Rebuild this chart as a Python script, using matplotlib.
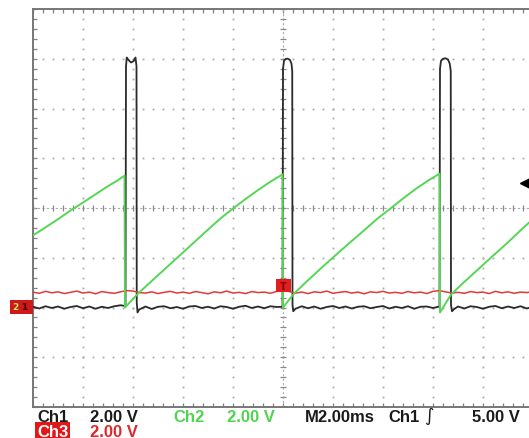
import numpy as np
import matplotlib
matplotlib.use('Agg')
import matplotlib.pyplot as plt
from matplotlib.patches import Rectangle

# scope capture: time in ms (2 ms/div), volts (2 V/div), ground at -2 div
ch1_t = [0, 0.25, 0.5, 0.75, 1.0, 1.25, 1.5, 1.75, 2.0, 2.25, 2.5, 2.75, 3.0, 3.25, 3.5,
         3.70, 3.72, 3.75, 3.82, 3.92, 4.02, 4.10, 4.14, 4.15, 4.18, 4.25,
         4.5, 4.75, 5.0, 5.25, 5.5, 5.75, 6.0, 6.25, 6.5, 6.75, 7.0, 7.25, 7.5, 7.75,
         8.0, 8.25, 8.5, 8.75, 9.0, 9.25, 9.5, 9.75,
         9.98, 10.0, 10.04, 10.12, 10.2, 10.28, 10.34, 10.37, 10.38, 10.41, 10.5,
         10.75, 11.0, 11.25, 11.5, 11.75, 12.0, 12.25, 12.5, 12.75, 13.0, 13.25,
         13.5, 13.75, 14.0, 14.25, 14.5, 14.75, 15.0, 15.25, 15.5, 15.75, 16.0,
         16.26, 16.28, 16.32, 16.40, 16.5, 16.6, 16.67, 16.71, 16.72, 16.76, 16.85,
         17.0, 17.25, 17.5, 17.75, 18.0, 18.25, 18.5, 18.75, 19.0, 19.25, 19.5, 19.75, 20.0]
ch1_v = [0.03, -0.04, 0.05, -0.02, 0.04, -0.05, 0.02, 0.06, -0.03, 0.04, -0.05, 0.03, -0.02, 0.05, 0.09,
         0.06, 9.7, 10.05, 9.95, 9.85, 9.9, 10.05, 9.7, 0.2, -0.2, -0.08,
         0.04, -0.06, 0.03, 0.05, -0.03, 0.02, -0.05, 0.04, 0.06, -0.02, 0.03, -0.04, 0.05, 0.02,
         -0.05, 0.03, 0.07, -0.02, 0.04, -0.03, 0.05, 0.02,
         0.03, 9.6, 9.92, 10.0, 10.0, 9.95, 9.8, 9.5, 0.1, -0.15, -0.05,
         0.05, -0.03, 0.04, -0.05, 0.02, 0.06, -0.02, 0.04, -0.04, 0.03, 0.05,
         -0.03, 0.02, 0.06, -0.04, 0.03, -0.02, 0.05, -0.05, 0.03, 0.04, -0.02,
         0.04, 9.6, 9.92, 10.0, 10.02, 9.97, 9.8, 9.5, 0.1, -0.15, -0.06,
         0.04, -0.04, 0.05, 0.02, -0.05, 0.03, 0.06, -0.03, 0.04, -0.02, 0.05, -0.04, 0.03]

ch2_t = [0, 0.5, 1.0, 1.5, 2.0, 2.5, 3.0, 3.4, 3.66, 3.68,
         4.16, 4.6, 5.2, 5.8, 6.4, 7.0, 7.5, 8.0, 8.5, 9.0, 9.5, 9.98, 10.0,
         10.44, 10.9, 11.5, 12.1, 12.7, 13.3, 13.76, 14.3, 14.8, 15.3, 15.8, 16.26, 16.28,
         16.72, 17.2, 17.8, 18.4, 19.0, 19.5, 20.0]
ch2_v = [2.9, 3.22, 3.55, 3.9, 4.22, 4.55, 4.88, 5.12, 5.3, 0.0,
         0.52, 0.93, 1.48, 2.03, 2.58, 3.13, 3.58, 3.98, 4.36, 4.72, 5.06, 5.35, 0.0,
         0.56, 1.0, 1.56, 2.1, 2.63, 3.15, 3.56, 3.98, 4.38, 4.76, 5.1, 5.38, -0.2,
         0.52, 0.98, 1.53, 2.08, 2.62, 3.1, 3.56]

ch3_v = [0.62, 0.57, 0.65, 0.59, 0.63, 0.56, 0.61, 0.66, 0.58, 0.62, 0.55, 0.64, 0.6, 0.57,
         0.63, 0.68, 0.66, 0.6, 0.58, 0.63, 0.56, 0.61, 0.65, 0.58, 0.62, 0.57, 0.64, 0.6,
         0.55, 0.63, 0.59, 0.66, 0.58, 0.61, 0.56, 0.64, 0.6, 0.62, 0.57, 0.65, 0.7, 0.64,
         0.58, 0.62, 0.56, 0.63, 0.6, 0.66, 0.57, 0.61, 0.64, 0.58, 0.62, 0.55, 0.63, 0.6,
         0.65, 0.58, 0.61, 0.57, 0.64, 0.59, 0.62, 0.56, 0.65, 0.68, 0.63, 0.58, 0.61, 0.57,
         0.64, 0.6, 0.62, 0.56, 0.65, 0.59, 0.63, 0.57, 0.62, 0.6, 0.64]
ch3_t = np.linspace(0, 20, len(ch3_v))

trig_time = 10.0
trig_level = 5.0

W, H = 529, 439
fig = plt.figure(figsize=(W / 100, H / 100), dpi=100, facecolor='white')
ax = fig.add_axes([33 / W, 31 / H, 500 / W, 398 / H])
ax.set_xlim(0, 20)
ax.set_ylim(-4, 12)

# graticule
gcol = '#ababab'
for gx in np.arange(2, 20, 2):
    if gx == 10:
        continue
    yy = np.arange(-4, 12.01, 0.4)
    ax.plot(np.full_like(yy, gx), yy, ls='none', marker='s', ms=1.3, color=gcol, mec='none')
for gy in np.arange(-2, 12, 2):
    if gy == 4:
        continue
    xx = np.arange(0, 20.01, 0.4)
    ax.plot(xx, np.full_like(xx, gy), ls='none', marker='s', ms=1.3, color=gcol, mec='none')
ax.axhline(4, color=gcol, lw=0.8, ls=(0, (2, 2)))
ax.axvline(10, color=gcol, lw=0.8, ls=(0, (2, 2)))
xx = np.arange(0, 20.01, 0.4)
ax.plot(xx, np.full_like(xx, 4), ls='none', marker='|', ms=4, mew=0.9, color='#8a8a8a')
yy = np.arange(-4, 12.01, 0.4)
ax.plot(np.full_like(yy, 10), yy, ls='none', marker='_', ms=4, mew=0.9, color='#8a8a8a')

ax.set_xticks(np.arange(0, 20.01, 2))
ax.set_yticks(np.arange(-4, 12.01, 2))
ax.set_xticks(np.arange(0, 20.01, 0.4), minor=True)
ax.set_yticks(np.arange(-4, 12.01, 0.4), minor=True)
ax.tick_params(which='both', direction='in', length=3, width=0.9, color='#808080',
               top=True, right=True, labelbottom=False, labelleft=False)
for s in ax.spines.values():
    s.set_color('#777777')
    s.set_linewidth(1.4)

# traces
ax.plot(ch1_t, ch1_v, color='#2a2a2a', lw=1.3, zorder=3)
ax.plot(ch3_t, ch3_v, color='#e03a3a', lw=1.1, zorder=4)
ax.plot(ch2_t, ch2_v, color='#55d655', lw=1.4, zorder=5)

# trigger position marker and level arrow
ax.add_patch(Rectangle((trig_time - 0.3, 0.64), 0.6, 0.5, facecolor='#e02020',
                       edgecolor='none', zorder=6))
ax.text(trig_time, 0.88, 'T', color='#8a0000', fontsize=7, fontweight='bold',
        ha='center', va='center', zorder=7)
ax.plot([19.7], [trig_level], marker='<', ms=8, color='black', clip_on=False, zorder=6)

# ground markers on the left
ax.add_patch(Rectangle((-0.92, -0.26), 0.92, 0.58, facecolor='#d01818', edgecolor='none',
                       clip_on=False, zorder=6))
ax.text(-0.7, 0.03, '2', color='#b8f060', fontsize=6.5, fontweight='bold',
        ha='center', va='center', clip_on=False, zorder=7)
ax.text(-0.35, 0.03, '1', color='#3a0000', fontsize=6.5, fontweight='bold',
        ha='center', va='center', clip_on=False, zorder=7)

# readout
def ftxt(x, y, s, color, **kw):
    fig.text(x / W, 1 - y / H, s, color=color, fontsize=12, fontweight='bold',
             family='Liberation Sans', va='baseline', ha='left', **kw)

ftxt(37, 422, 'Ch1', '#1a1a1a')
ftxt(90, 422, '2.00 V', '#1a1a1a')
ftxt(173, 422, 'Ch2', '#4ed44e')
ftxt(227, 422, '2.00 V', '#4ed44e')
ftxt(305, 422, 'M2.00ms', '#1a1a1a')
ftxt(388, 422, 'Ch1', '#1a1a1a')
ftxt(472, 422, '5.00 V', '#1a1a1a')
fig.text(429 / W, 1 - 421 / H, '\u222b', color='#1a1a1a', fontsize=13, family='DejaVu Sans',
         va='baseline', ha='center')
ftxt(37, 437, 'Ch3', 'white',
     bbox=dict(boxstyle='square,pad=0.1', facecolor='#e01818', edgecolor='none'))
ftxt(90, 437, '2.00 V', '#e02828')

fig.savefig('out.png', dpi=100, facecolor='white')
